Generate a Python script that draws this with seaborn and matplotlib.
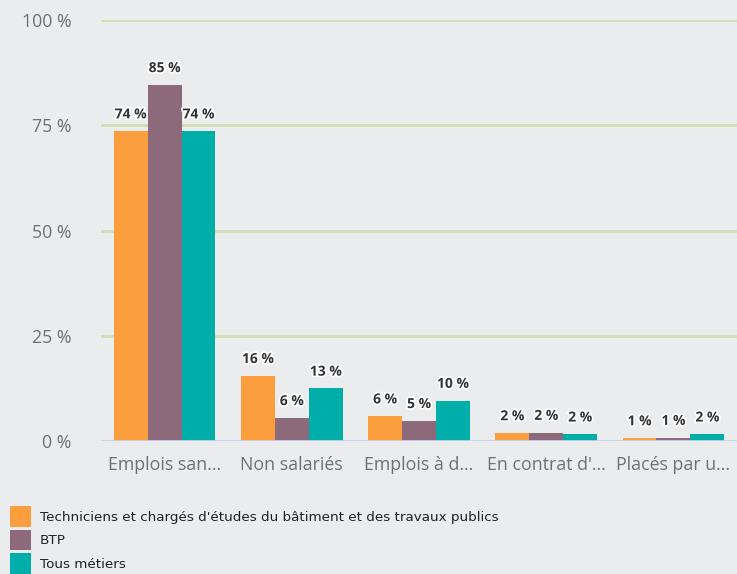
import matplotlib
matplotlib.use("Agg")
import matplotlib.pyplot as plt
import matplotlib.patheffects as pe
import seaborn as sns
import pandas as pd
from matplotlib.patches import Patch

categories = ["Emplois san...", "Non salariés", "Emplois à d...", "En contrat d'...", "Placés par u..."]
series = ["Techniciens et chargés d'études du bâtiment et des travaux publics", "BTP", "Tous métiers"]
tech = [73.6, 15.5, 5.9, 1.9, 0.7]
btp = [84.6, 5.5, 4.8, 2.0, 0.8]
tous = [73.6, 12.5, 9.6, 1.6, 1.6]
labels_tech = ["74 %", "16 %", "6 %", "2 %", "1 %"]
labels_btp = ["85 %", "6 %", "5 %", "2 %", "1 %"]
labels_tous = ["74 %", "13 %", "10 %", "2 %", "2 %"]
yticks = [0, 25, 50, 75, 100]
colors = ["#fb9e3e", "#8c6a7c", "#00aea9"]

rows = []
for s, vals in zip(series, [tech, btp, tous]):
    for c, v in zip(categories, vals):
        rows.append({"cat": c, "serie": s, "val": v})
df = pd.DataFrame(rows)

sns.set_style("white")
plt.rcParams["font.family"] = ["Open Sans", "DejaVu Sans"]
bg = "#ebecee"
fig = plt.figure(figsize=(7.37, 5.74), dpi=100, facecolor=bg)
ax = fig.add_axes([101/737, 1-441/574, 1-101/737, (441-20)/574])
ax.set_facecolor(bg)

sns.barplot(data=df, x="cat", y="val", hue="serie", palette=colors, width=0.8,
            saturation=1, ax=ax, legend=False, edgecolor="none", linewidth=0)

ax.set_ylim(0, 100)
ax.set_xlim(-0.5, 4.5)
ax.set_yticks(yticks)
ax.set_yticklabels([f"{t} %" for t in yticks], color="#707070", fontsize=12.8)
ax.tick_params(axis="x", colors="#707070", labelsize=12.8, length=0, pad=11)
ax.tick_params(axis="y", length=0, pad=21)
for t in [25, 50, 75, 100]:
    ax.axhline(t, color="#d3dcb3", lw=2, zorder=0)
ax.axhline(0, color="#c5d3ea", lw=1.3, zorder=3)
for s in ax.spines.values():
    s.set_visible(False)
ax.set_xlabel("")
ax.set_ylabel("")

all_labels = [labels_tech, labels_btp, labels_tous]
for cont, labs in zip(ax.containers, all_labels):
    for bar, lab in zip(cont, labs):
        x = bar.get_x() + bar.get_width()/2
        y = bar.get_height()
        ax.annotate(lab, (x, y), xytext=(0, 7), textcoords="offset points",
                    ha="center", va="bottom", fontsize=10, fontweight="bold",
                    color="#333333", clip_on=False,
                    path_effects=[pe.withStroke(linewidth=2.5, foreground="white")])

handles = [Patch(facecolor=c, edgecolor="none") for c in colors]
fig.legend(handles, series, loc="upper left", bbox_to_anchor=(-2/737, 1-494/574),
           frameon=False, handlelength=1.55, handleheight=2.0,
           labelspacing=0.2, handletextpad=0.65, labelcolor="#222222",
           prop={"family": "DejaVu Sans", "size": 9.7})

fig.savefig("out.png", dpi=100, facecolor=bg)
